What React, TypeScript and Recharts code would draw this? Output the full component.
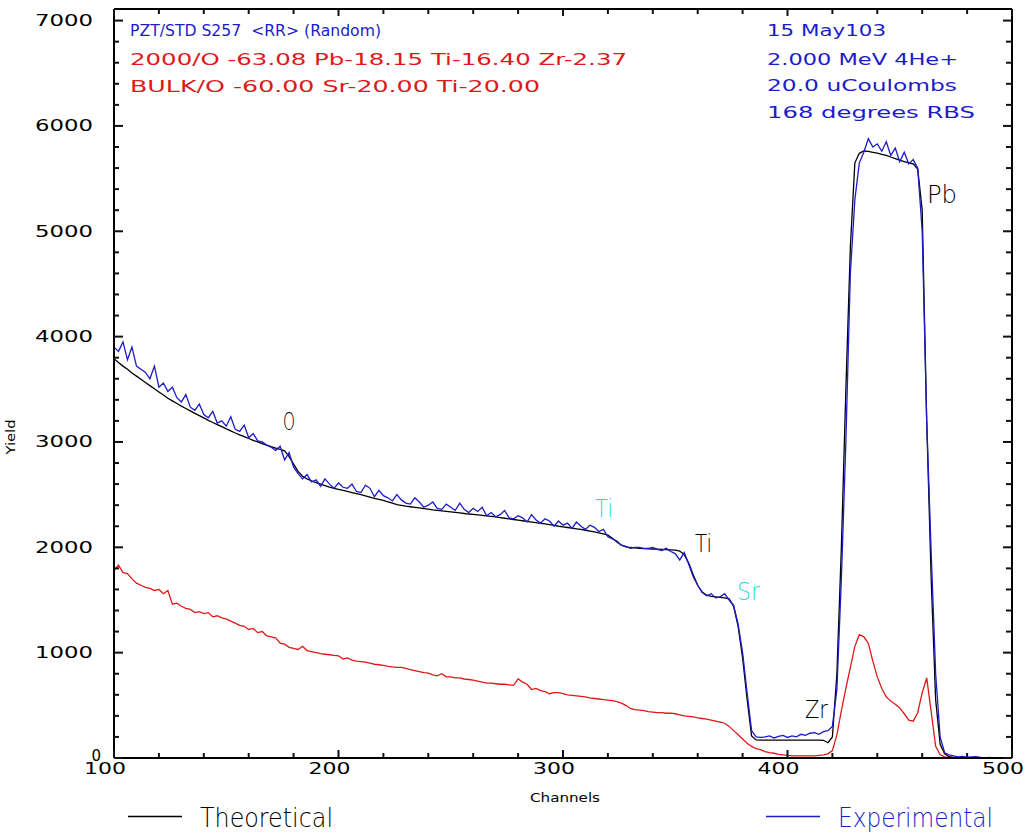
import { LineChart, Line, XAxis, YAxis, ReferenceLine } from "recharts";

// channel numbers (every 2nd channel)
const channels = [
  100, 102, 104, 106, 108, 110, 112, 114, 116, 118,
  120, 122, 124, 126, 128, 130, 132, 134, 136, 138,
  140, 142, 144, 146, 148, 150, 152, 154, 156, 158,
  160, 162, 164, 166, 168, 170, 172, 174, 176, 178,
  180, 182, 184, 186, 188, 190, 192, 194, 196, 198,
  200, 202, 204, 206, 208, 210, 212, 214, 216, 218,
  220, 222, 224, 226, 228, 230, 232, 234, 236, 238,
  240, 242, 244, 246, 248, 250, 252, 254, 256, 258,
  260, 262, 264, 266, 268, 270, 272, 274, 276, 278,
  280, 282, 284, 286, 288, 290, 292, 294, 296, 298,
  300, 302, 304, 306, 308, 310, 312, 314, 316, 318,
  320, 322, 324, 326, 328, 330, 332, 334, 336, 338,
  340, 342, 344, 346, 348, 350, 352, 354, 356, 358,
  360, 362, 364, 366, 368, 370, 372, 374, 376, 378,
  380, 382, 384, 386, 388, 390, 392, 394, 396, 398,
  400, 402, 404, 406, 408, 410, 412, 414, 416, 418,
  420, 422, 424, 426, 428, 430, 432, 434, 436, 438,
  440, 442, 444, 446, 448, 450, 452, 454, 456, 458,
  460, 462, 464, 466, 468, 470, 472, 474, 476, 478,
  480, 482, 484, 486, 488, 490, 492, 494, 496, 498,
  500,
];

const theoretical = [
  3790, 3755, 3720, 3690, 3655, 3625, 3595, 3565, 3535, 3505,
  3475, 3445, 3415, 3390, 3365, 3340, 3318, 3295, 3272, 3250,
  3228, 3205, 3185, 3165, 3145, 3125, 3105, 3085, 3068, 3050,
  3033, 3016, 3000, 2985, 2970, 2955, 2942, 2930, 2915, 2860,
  2790, 2720, 2675, 2650, 2630, 2615, 2600, 2585, 2572, 2560,
  2550, 2540, 2530, 2520, 2510, 2500, 2488, 2476, 2465, 2455,
  2445, 2432, 2420, 2405, 2398, 2390, 2385, 2380, 2374, 2368,
  2362, 2356, 2351, 2346, 2341, 2336, 2331, 2326, 2321, 2316,
  2312, 2308, 2304, 2299, 2294, 2288, 2282, 2276, 2270, 2264,
  2258, 2252, 2246, 2240, 2234, 2228, 2222, 2215, 2208, 2200,
  2194, 2188, 2182, 2176, 2170, 2162, 2154, 2146, 2138, 2128,
  2115, 2085, 2050, 2020, 2005, 1998, 1994, 1990, 1988, 1986,
  1984, 1982, 1980, 1978, 1976, 1974, 1965, 1930, 1850, 1740,
  1640, 1575, 1545, 1535, 1530, 1525, 1520, 1510, 1440, 1250,
  950, 560, 210, 172, 170, 170, 170, 170, 170, 170,
  170, 170, 170, 170, 170, 170, 170, 170, 168, 145,
  200, 800, 2000, 3500, 4850, 5650, 5740, 5762, 5758, 5750,
  5742, 5730, 5720, 5705, 5690, 5675, 5662, 5650, 5640, 5590,
  5200, 3200, 1700, 550, 130, 40, 12, 5, 2, 0,
  0, 0, 0, 0, 0, 0, 0, 0, 0, 0,
  0,
];

const experimental = [
  3900, 3860, 3950, 3780, 3900, 3720, 3690, 3660, 3600, 3720,
  3520, 3560, 3480, 3520, 3420, 3380, 3450, 3330, 3300, 3360,
  3260, 3230, 3290, 3180, 3200, 3150, 3240, 3120, 3100, 3160,
  3040, 3080, 3010, 3000, 2970, 2950, 2920, 2960, 2830, 2900,
  2760, 2700, 2650, 2690, 2620, 2640, 2580, 2650, 2600, 2560,
  2610, 2570, 2560, 2600, 2530, 2520, 2590, 2560, 2480, 2540,
  2490, 2470, 2440, 2500, 2450, 2420, 2410, 2470, 2430, 2380,
  2400, 2430, 2370, 2360, 2410, 2380, 2350, 2420, 2360, 2330,
  2370, 2340, 2380, 2300, 2330, 2290, 2310, 2350, 2280, 2270,
  2300, 2280, 2240, 2310, 2260, 2230, 2270, 2250, 2200, 2250,
  2210, 2230, 2180, 2240, 2200, 2170, 2210, 2190, 2150, 2170,
  2100, 2080, 2060, 2020, 2010, 1990, 2000, 2000, 1990, 1990,
  2000, 1980, 1970, 1990, 1960, 1940, 1880, 1950, 1840, 1720,
  1640, 1570, 1540, 1560, 1520, 1530, 1560, 1500, 1450, 1270,
  1000, 620, 260, 200, 195, 200, 210, 190, 205, 215,
  195, 210, 200, 225, 215, 235, 240, 225, 250, 260,
  300, 650, 1700, 3000, 4600, 5300, 5650, 5750, 5880, 5800,
  5830, 5760, 5850, 5720, 5790, 5660, 5750, 5640, 5680, 5600,
  5000, 3200, 1950, 800, 200, 50, 30, 20, 10, 15,
  8, 10, 12, 5, 0, 5, 0, 0, 0, 0,
  0,
];

const bulk = [
  1780, 1830, 1760, 1750, 1700, 1660, 1640, 1620, 1610, 1590,
  1600, 1560, 1590, 1460, 1470, 1440, 1420, 1410, 1380, 1390,
  1370, 1380, 1340, 1350, 1330, 1320, 1300, 1280, 1260, 1250,
  1220, 1230, 1190, 1200, 1160, 1150, 1140, 1090, 1080, 1050,
  1040, 1030, 1060, 1020, 1010, 1000, 990, 985, 980, 975,
  970, 940, 950, 930, 920, 915, 910, 900, 890, 885,
  880, 870, 865, 860, 860, 850, 840, 830, 820, 810,
  805, 790, 780, 800, 770, 770, 760, 760, 750, 745,
  740, 730, 720, 710, 710, 705, 700, 700, 695, 690,
  750, 720, 700, 650, 660, 640, 630, 610, 620, 620,
  610, 600, 595, 590, 585, 580, 570, 565, 560, 555,
  550, 545, 535, 520, 500, 470, 460, 455, 450, 440,
  435, 430, 430, 425, 425, 420, 410, 400, 395, 390,
  380, 375, 370, 360, 350, 340, 330, 300, 260, 220,
  180, 140, 110, 90, 80, 60, 50, 45, 35, 30,
  25, 20, 20, 20, 20, 20, 20, 25, 30, 40,
  70, 220, 450, 660, 860, 1060, 1170, 1150, 1090, 920,
  770, 660, 580, 540, 510, 475, 420, 360, 350, 430,
  620, 760, 440, 110, 30, 10, 5, 2, 0, 0,
  0, 0, 0, 0, 0, 0, 0, 0, 0, 0,
  0,
];

const xTicks = [100, 120, 140, 160, 180, 200, 220, 240, 260, 280, 300, 320, 340, 360, 380, 400, 420, 440, 460, 480, 500];
const yTicks = [
  0, 200, 400, 600, 800, 1000, 1200, 1400, 1600, 1800, 2000, 2200, 2400, 2600, 2800, 3000, 3200, 3400,
  3600, 3800, 4000, 4200, 4400, 4600, 4800, 5000, 5200, 5400, 5600, 5800, 6000, 6200, 6400, 6600, 6800, 7000,
];
const xLabelled = [100, 200, 300, 400, 500];
const yLabelled = [0, 1000, 2000, 3000, 4000, 5000, 6000, 7000];

const BLUE = "#1c1cc8";
const RED = "#e01818";
const CYAN = "#38d4e0";
const FONT = "DejaVu Sans";
const X_MAX = 500;
const Y_MAX = 7110;

const data = channels.map((ch, i) => ({
  ch,
  theo: theoretical[i],
  exp: experimental[i],
  bulk: bulk[i],
}));

const BottomTick = ({ x, y, payload }: any) => {
  const major = xLabelled.includes(payload.value);
  return (
    <g>
      <line x1={x} y1={y} x2={x} y2={y - (major ? 8 : 5)} stroke="#111" strokeWidth={2} />
      {major && (
        <text x={x - 9} y={y + 16} textAnchor="middle" fontFamily={FONT} fontSize={15}
          textLength={42} lengthAdjust="spacingAndGlyphs" fill="#000">
          {payload.value}
        </text>
      )}
    </g>
  );
};

const TopTick = ({ x, y, payload }: any) => {
  const major = xLabelled.includes(payload.value);
  return <line x1={x} y1={y} x2={x} y2={y + (major ? 7 : 5)} stroke="#111" strokeWidth={2} />;
};

const LeftTick = ({ x, y, payload }: any) => {
  const major = yLabelled.includes(payload.value);
  const label = String(payload.value);
  return (
    <g>
      <line x1={x} y1={y} x2={x + (major ? 9 : 5)} y2={y} stroke="#111" strokeWidth={2} />
      {major && (
        <text x={payload.value === 0 ? x - 13 : x - 21} y={payload.value === 0 ? y + 3 : y + 5.5}
          textAnchor="end" fontFamily={FONT} fontSize={15} fill="#000"
          {...(label.length > 1 ? { textLength: 58, lengthAdjust: "spacingAndGlyphs" } : {})}>
          {label}
        </text>
      )}
    </g>
  );
};

const RightTick = ({ x, y, payload }: any) => {
  const major = yLabelled.includes(payload.value);
  return <line x1={x} y1={y} x2={x - (major ? 9 : 6)} y2={y} stroke="#111" strokeWidth={2} />;
};

const notes = [
  { t: "PZT/STD S257  <RR> (Random)", x: 130, y: 36, w: 251, c: BLUE },
  { t: "2000/O -63.08 Pb-18.15 Ti-16.40 Zr-2.37", x: 130, y: 65, w: 497, c: RED },
  { t: "BULK/O -60.00 Sr-20.00 Ti-20.00", x: 130, y: 92, w: 410, c: RED },
  { t: "15 May103", x: 767, y: 36, w: 119, c: BLUE },
  { t: "2.000 MeV 4He+", x: 767, y: 65, w: 191, c: BLUE },
  { t: "20.0 uCoulombs", x: 767, y: 91, w: 190, c: BLUE },
  { t: "168 degrees RBS", x: 767, y: 118, w: 208, c: BLUE },
];

const peaks = [
  { t: "O", x: 283, y: 430, w: 12, c: "#000" },
  { t: "Ti", x: 595, y: 517, w: 18, c: CYAN },
  { t: "Ti", x: 695, y: 552, w: 17, c: "#000" },
  { t: "Sr", x: 737, y: 600, w: 23, c: CYAN },
  { t: "Zr", x: 805, y: 718, w: 23, c: "#000" },
  { t: "Pb", x: 927, y: 203, w: 30, c: "#000" },
];

// series shown in the legend, with their slot along the bottom edge
const legendItems = [
  { name: "Theoretical", color: "#000", x: 128, w: 133 },
  { name: "Experimental", color: BLUE, x: 766, w: 155 },
];

export default function App() {
  return (
    <div style={{ position: "absolute", left: 0, top: 0, width: 1028, height: 834 }}>
      {/* text layer sits underneath the chart */}
      <svg width={1028} height={834} style={{ position: "absolute", left: 0, top: 0, pointerEvents: "none" }}>
        {notes.map((n) => (
          <text key={n.t} x={n.x} y={n.y} fontFamily={FONT} fontSize={15} fill={n.c} textLength={n.w}
            lengthAdjust="spacingAndGlyphs" style={{ whiteSpace: "pre" }}>
            {n.t}
          </text>
        ))}
        {peaks.map((p) => (
          <text key={p.t + p.x} x={p.x} y={p.y} fontFamily={FONT} fontSize={24} fontWeight={200} fill={p.c}
            textLength={p.w} lengthAdjust="spacingAndGlyphs">
            {p.t}
          </text>
        ))}
        <text x={565} y={802} textAnchor="middle" fontFamily={FONT} fontSize={13} fill="#000"
          textLength={70} lengthAdjust="spacingAndGlyphs">
          Channels
        </text>
        <text x={0} y={0} transform="translate(15 437) rotate(-90)" textAnchor="middle" fontFamily={FONT}
          fontSize={12} fill="#000" textLength={35} lengthAdjust="spacingAndGlyphs">
          Yield
        </text>
        {legendItems.map((s) => (
          <g key={s.name}>
            <line x1={s.x} y1={816.5} x2={s.x + 54} y2={816.5} stroke={s.color} strokeWidth={1.5} />
            <text x={s.x + 72} y={827} fontFamily={FONT} fontSize={27} fontWeight={200} fill={s.color}
              textLength={s.w} lengthAdjust="spacingAndGlyphs">
              {s.name}
            </text>
          </g>
        ))}
      </svg>
      <div style={{ position: "absolute", left: 0, top: 0 }}>
        <LineChart width={1028} height={834} data={data} margin={{ top: 8, right: 15, left: 0, bottom: 0 }}>
          <XAxis dataKey="ch" type="number" domain={[100, X_MAX]} ticks={xTicks} allowDataOverflow
            height={76} stroke="#000" strokeWidth={2} tickLine={false} tickSize={0} tickMargin={0}
            tick={<BottomTick />} interval={0} />
          <XAxis xAxisId="top" orientation="top" dataKey="ch" type="number" domain={[100, X_MAX]}
            ticks={xTicks} allowDataOverflow height={1} stroke="#000" strokeWidth={2} tickLine={false}
            tickSize={0} tickMargin={0} tick={<TopTick />} interval={0} />
          <YAxis type="number" domain={[0, Y_MAX]} ticks={yTicks} allowDataOverflow width={114} stroke="#000"
            strokeWidth={2} tickLine={false} tickSize={0} tickMargin={0} tick={<LeftTick />} interval={0} />
          <YAxis yAxisId="right" orientation="right" type="number" domain={[0, Y_MAX]} ticks={yTicks}
            allowDataOverflow width={1} stroke="#000" strokeWidth={2} tickLine={false} tickSize={0}
            tickMargin={0} tick={<RightTick />} interval={0} />
          {/* frame edges along the top and right of the plot */}
          <ReferenceLine y={Y_MAX} stroke="#000" strokeWidth={2} ifOverflow="visible" />
          <ReferenceLine x={X_MAX} stroke="#000" strokeWidth={2} ifOverflow="visible" />
          {/* bulk curve sits on the mirrored (top/right) axes, which share the same domains */}
          <Line xAxisId="top" yAxisId="right" dataKey="bulk" name="Bulk" stroke={RED} strokeWidth={1.3}
            dot={false} isAnimationActive={false} />
          <Line dataKey="theo" name="Theoretical" stroke="#000" strokeWidth={1.3} dot={false}
            isAnimationActive={false} />
          <Line dataKey="exp" name="Experimental" stroke={BLUE} strokeWidth={1.3} dot={false}
            isAnimationActive={false} />
        </LineChart>
      </div>
    </div>
  );
}
